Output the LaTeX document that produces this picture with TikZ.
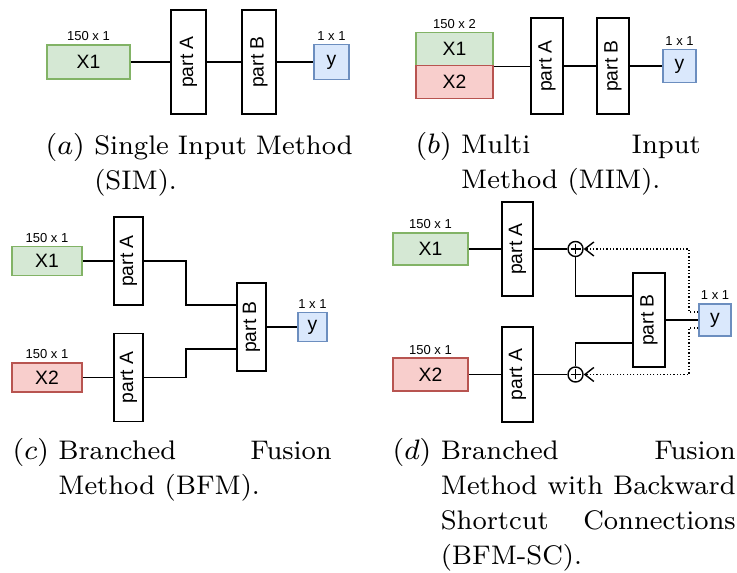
\documentclass[tikz,border=0pt]{standalone}
\usepackage{fontspec}
\newfontfamily\drawfont{Liberation Sans}
\definecolor{InGreen}{HTML}{D5E8D4}
\definecolor{InGreenLine}{HTML}{82B366}
\definecolor{InRed}{HTML}{F8CECC}
\definecolor{InRedLine}{HTML}{B85450}
\definecolor{OutBlue}{HTML}{DAE8FC}
\definecolor{OutBlueLine}{HTML}{6C8EBF}
\usetikzlibrary{positioning, arrows.meta, calc}

% sub-caption with hanging label, e.g. (a) ...
\newsavebox{\caplabel}
\newlength{\caplabelwd}
\newcommand{\subcap}[2]{%
  \sbox{\caplabel}{$(#1)$\ }%
  \setlength{\caplabelwd}{\wd\caplabel}%
  \hyphenpenalty=10000 \tolerance=9999
  \noindent\hangindent=\caplabelwd \hangafter=1 \usebox{\caplabel}#2\par}
\newcommand{\vtext}[1]{\rotatebox{90}{#1}}

\begin{document}
\begin{tikzpicture}[
  blk/.style={draw, inner sep=0pt, line width=0.5pt,
              font=\drawfont\fontsize{5.5}{6}\selectfont},
  xgreen/.style={blk, draw=InGreenLine, fill=InGreen},
  xred/.style={blk, draw=InRedLine, fill=InRed},
  yout/.style={blk, draw=OutBlueLine, fill=OutBlue},
  part/.style={blk, fill=white},
  dimlbl/.style={inner sep=0.7pt, font=\drawfont\fontsize{3.7}{4}\selectfont},
  sum/.style={circle, draw, fill=white, minimum size=0.15cm, inner sep=0pt,
              path picture={\draw ([xshift=-0.05cm]path picture bounding box.center)
                -- ([xshift=0.05cm]path picture bounding box.center)
                ([yshift=-0.05cm]path picture bounding box.center)
                -- ([yshift=0.05cm]path picture bounding box.center);}},
  fb/.style={dash pattern=on 0.35pt off 0.6pt,
             -{Straight Barb[length=0.09cm, width=0.14cm]}},
  captext/.style={anchor=base west, text width=#1, align=justify, inner sep=0pt,
                  font=\fontsize{7.65}{9.9}\selectfont},
]
  \useasboundingbox (0,0) rectangle (7.37,-5.73);

  % (a) single input
  \node[xgreen, minimum width=0.83cm, minimum height=0.34cm,
        label={[dimlbl]above:150 x 1}] (sx1) at (0.885,-0.62) {X1};
  \node[part, minimum width=0.345cm, minimum height=1.04cm] (sa) at (1.885,-0.62) {\vtext{part A}};
  \node[part, minimum width=0.345cm, minimum height=1.04cm] (sb) at (2.59,-0.62) {\vtext{part B}};
  \node[yout, minimum size=0.35cm, label={[dimlbl]above:1 x 1}] (sy) at (3.315,-0.62) {y};
  \draw (sx1) -- (sa);
  \draw (sa) -- (sb);
  \draw (sb) -- (sy);
  \node[captext=3.07cm] (capa) at (0.45,-1.55) {\subcap{a}{Single Input Method (SIM).}};

  % (b) multi input
  \node[xgreen, minimum width=0.77cm, minimum height=0.33cm,
        label={[dimlbl]above:150 x 2}] (mx1) at (4.545,-0.49) {X1};
  \node[xred, minimum width=0.77cm, minimum height=0.33cm] (mx2) at (4.545,-0.82) {X2};
  \node[part, minimum width=0.32cm, minimum height=0.96cm] (ma) at (5.47,-0.66) {\vtext{part A}};
  \node[part, minimum width=0.32cm, minimum height=0.96cm] (mb) at (6.13,-0.66) {\vtext{part B}};
  \node[yout, minimum size=0.33cm, label={[dimlbl]above:1 x 1}] (my) at (6.795,-0.66) {y};
  \draw (mx1.south east) -- (mx1.south east -| ma.west);
  \draw (ma) -- (mb);
  \draw (mb) -- (my);
  \node[captext=2.85cm] (capb) at (4.15,-1.54) {\subcap{b}{Multi Input Method (MIM).}};

  % (c) branched fusion
  \node[xgreen, minimum width=0.70cm, minimum height=0.29cm,
        label={[dimlbl]above:150 x 1}] (bx1) at (0.47,-2.61) {X1};
  \node[part, minimum width=0.29cm, minimum height=0.88cm] (ba1) at (1.285,-2.61) {\vtext{part A}};
  \node[xred, minimum width=0.70cm, minimum height=0.29cm,
        label={[dimlbl]above:150 x 1}] (bx2) at (0.47,-3.775) {X2};
  \node[part, minimum width=0.29cm, minimum height=0.88cm] (ba2) at (1.285,-3.775) {\vtext{part A}};
  \node[part, minimum width=0.29cm, minimum height=0.88cm] (bb) at (2.515,-3.27) {\vtext{part B}};
  \node[yout, minimum size=0.29cm, label={[dimlbl]above:1 x 1}] (by) at (3.125,-3.27) {y};
  \draw (bx1) -- (ba1);
  \draw (bx2) -- (ba2);
  \draw (ba1.east) -| ([xshift=-0.5cm, yshift=0.22cm]bb.west) -- ([yshift=0.22cm]bb.west);
  \draw (ba2.east) -| ([xshift=-0.5cm, yshift=-0.22cm]bb.west) -- ([yshift=-0.22cm]bb.west);
  \draw (bb) -- (by);
  \node[captext=3.19cm] (capc) at (0.12,-4.60) {\subcap{c}{Branched Fusion Method (BFM).}};

  % (d) branched fusion with backward shortcuts
  \node[xgreen, minimum width=0.75cm, minimum height=0.325cm,
        label={[dimlbl]above:150 x 1}] (rx1) at (4.305,-2.49) {X1};
  \node[part, minimum width=0.315cm, minimum height=0.945cm] (ra1) at (5.175,-2.49) {\vtext{part A}};
  \node[sum] (s1) at (5.755,-2.49) {};
  \node[xred, minimum width=0.75cm, minimum height=0.325cm,
        label={[dimlbl]above:150 x 1}] (rx2) at (4.305,-3.745) {X2};
  \node[part, minimum width=0.315cm, minimum height=0.945cm] (ra2) at (5.175,-3.745) {\vtext{part A}};
  \node[sum] (s2) at (5.755,-3.745) {};
  \node[part, minimum width=0.32cm, minimum height=0.94cm] (rb) at (6.49,-3.20) {\vtext{part B}};
  \node[yout, minimum size=0.32cm, label={[dimlbl]above:1 x 1}] (ry) at (7.15,-3.20) {y};
  \draw (rx1) -- (ra1);
  \draw (ra1) -- (s1);
  \draw (rx2) -- (ra2);
  \draw (ra2) -- (s2);
  \draw (s1) |- ([yshift=0.24cm]rb.west);
  \draw (s2) |- ([yshift=-0.23cm]rb.west);
  \draw (rb) -- (ry);
  \draw[fb] ([yshift=0.08cm]ry.west) -- ++(-0.09,0) |- (s1);
  \draw[fb] ([yshift=-0.08cm]ry.west) -- ++(-0.09,0) |- (s2);
  \node[captext=3.43cm] (capd) at (3.92,-4.60)
    {\subcap{d}{Branched Fusion Method with Backward Shortcut Connections (BFM-SC).}};
\end{tikzpicture}
\end{document}
